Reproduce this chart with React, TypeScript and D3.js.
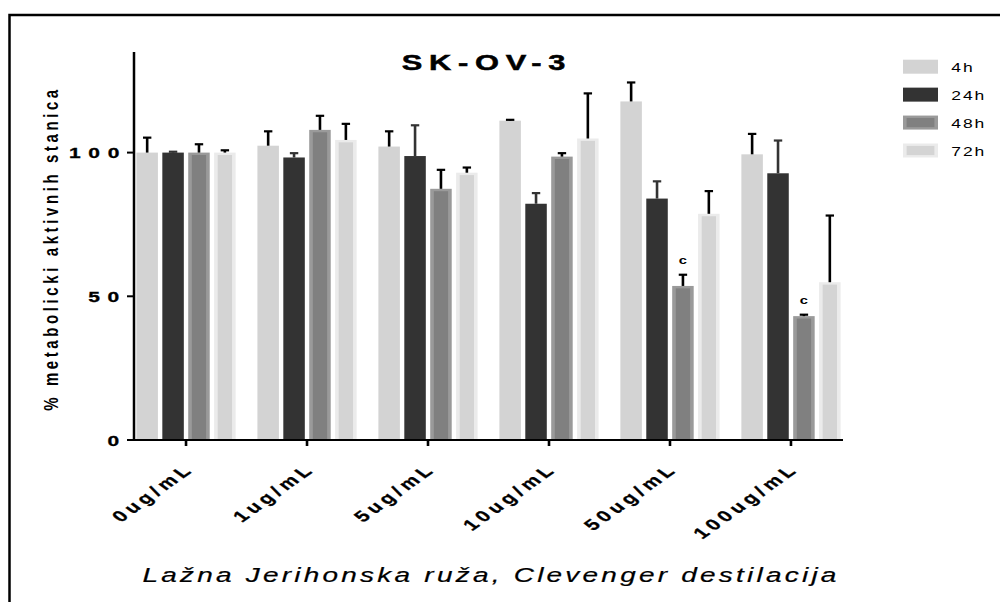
import * as d3 from "d3";

const categories = ["0ug/mL", "1ug/mL", "5ug/mL", "10ug/mL", "50ug/mL", "100ug/mL"];
const series = ["4h", "24h", "48h", "72h"];

// mean % per series, one value per category
const means4h = [100, 102.4, 102.1, 111.1, 117.8, 99.4];
const means24h = [100, 98.3, 98.8, 82.2, 84.0, 92.8];
const means48h = [100, 107.9, 87.4, 98.6, 53.6, 43.1];
const means72h = [100, 104.4, 93.0, 104.9, 78.7, 54.9];

// upper error (SEM)
const err4h = [5.2, 5.0, 5.3, 0.3, 6.6, 7.1];
const err24h = [0.3, 1.5, 10.7, 3.7, 6.0, 11.4];
const err48h = [2.9, 4.9, 6.6, 1.2, 3.9, 0.5];
const err72h = [0.8, 5.6, 1.8, 15.7, 7.9, 23.2];

const yTicks = [0, 50, 100];

// significance letters: [category, series, label]
const marks: [string, string, string][] = [
  ["50ug/mL", "48h", "c"],
  ["100ug/mL", "48h", "c"],
];

const means = [means4h, means24h, means48h, means72h];
const errs = [err4h, err24h, err48h, err72h];

// bar look per series: fill, outline colour, error colour
const fills = ["#d3d3d3", "#333333", "#808080", "#d4d4d4"];
const edges = ["#d3d3d3", "#333333", "#9a9a9a", "#ebebeb"];
const errColors = ["#000", "#333", "#000", "#000"];

const W = 1000;
const H = 602;
const SX = 1.4; // the original is stretched horizontally
const FONT = "'Liberation Sans', Arial, sans-serif";

export default function App() {
  const x = d3
    .scaleBand<string>()
    .domain(categories)
    .range([134, 843])
    .paddingInner(0.18)
    .paddingOuter(0.02);
  const xs = d3
    .scaleBand<string>()
    .domain(series)
    .range([0, x.bandwidth()])
    .paddingInner(0.17);
  const y = d3.scaleLinear().domain([0, 135]).range([440, 52]);
  const legendY = d3.scalePoint<string>().domain(series).range([59.7, 143.5]);

  const bars = categories.flatMap((c, ci) =>
    series.map((s, si) => ({
      c,
      s,
      si,
      v: means[si][ci],
      e: errs[si][ci],
      x0: (x(c) ?? 0) + (xs(s) ?? 0),
    }))
  );

  const bw = xs.bandwidth();
  const stretch = (tx: number, ty: number, extra = "") =>
    `translate(${tx},${ty}) scale(${SX},1)${extra}`;

  return (
    <svg
      width={W}
      height={H}
      style={{ position: "absolute", left: 0, top: 0, display: "block", background: "#fff" }}
      fontFamily={FONT}
    >
      {/* frame */}
      <path d={`M9.5,${H + 5}V15H${W + 5}`} fill="none" stroke="#000" strokeWidth={2.5} />

      {/* bars */}
      {bars.map((b) => {
        const top = y(b.v);
        const bottom = y(0);
        const inset = b.si >= 2;
        return (
          <g key={b.c + b.s}>
            <rect x={b.x0} y={top} width={bw} height={bottom - top} fill={edges[b.si]} />
            {inset ? (
              <rect
                x={b.x0 + 3.6}
                y={top + 2.4}
                width={bw - 7.2}
                height={bottom - top - 2.4}
                fill={fills[b.si]}
              />
            ) : null}
          </g>
        );
      })}

      {/* error bars */}
      {bars.map((b) => {
        const cx = b.x0 + bw / 2;
        return (
          <g key={"e" + b.c + b.s} stroke={errColors[b.si]}>
            <line x1={cx} x2={cx} y1={y(b.v)} y2={y(b.v + b.e)} strokeWidth={2.6} />
            <line x1={cx - 4.2} x2={cx + 4.2} y1={y(b.v + b.e)} y2={y(b.v + b.e)} strokeWidth={2.2} />
          </g>
        );
      })}

      {/* significance letters */}
      {marks.map(([c, s, t]) => {
        const ci = categories.indexOf(c);
        const si = series.indexOf(s);
        const cx = (x(c) ?? 0) + (xs(s) ?? 0) + bw / 2;
        return (
          <text
            key={c + s}
            transform={stretch(cx, y(means[si][ci] + errs[si][ci]) - 11)}
            textAnchor="middle"
            fontSize={10.5}
            fontWeight="bold"
            fill="#000"
          >
            {t}
          </text>
        );
      })}

      {/* y axis */}
      <line x1={134} x2={134} y1={y(135)} y2={y(0) + 1} stroke="#000" strokeWidth={2.5} />
      {yTicks.map((t) => (
        <g key={t}>
          <line x1={127} x2={134} y1={y(t)} y2={y(t)} stroke="#000" strokeWidth={2} />
          <text
            transform={stretch(127, y(t) + 5.5)}
            textAnchor="end"
            fontSize={15}
            fontWeight="bold"
            letterSpacing={5.5}
            fill="#000"
            stroke="#000"
            strokeWidth={0.3}
          >
            {t}
          </text>
        </g>
      ))}

      {/* x axis */}
      <line x1={134} x2={843} y1={y(0)} y2={y(0)} stroke="#000" strokeWidth={2.2} />
      {categories.map((c) => {
        const cx = (x(c) ?? 0) + x.bandwidth() / 2;
        return (
          <g key={c}>
            <line x1={cx} x2={cx} y1={y(0)} y2={y(0) + 6} stroke="#000" strokeWidth={2.6} />
            <text
              transform={stretch(cx + 9, y(0) + 30, " rotate(-45)")}
              textAnchor="end"
              fontSize={15.5}
              fontWeight="bold"
              letterSpacing={3.3}
              fill="#000"
              stroke="#000"
              strokeWidth={0.3}
            >
              {c}
            </text>
          </g>
        );
      })}

      {/* title */}
      <text
        transform={stretch(401.8, 69.5)}
        fontSize={22}
        fontWeight="bold"
        letterSpacing={4.8}
        fill="#000"
        stroke="#000"
        strokeWidth={0.5}
      >
        SK-OV-3
      </text>

      {/* y axis title */}
      <text
        transform={stretch(58, 248.5, " rotate(-90)")}
        textAnchor="middle"
        fontSize={15}
        fontWeight="bold"
        letterSpacing={3.6}
        fill="#000"
      >
        % metabolicki aktivnih stanica
      </text>

      {/* x axis title */}
      <text
        transform={stretch(491, 581.7)}
        textAnchor="middle"
        fontSize={20}
        fontStyle="italic"
        letterSpacing={2.3}
        fill="#000"
        stroke="#000"
        strokeWidth={0.2}
      >
        Lažna Jerihonska ruža, Clevenger destilacija
      </text>

      {/* legend */}
      {series.map((s, si) => {
        const ty = legendY(s) ?? 0;
        return (
          <g key={s}>
            <rect x={903} y={ty} width={35} height={14} fill={edges[si]} />
            {si >= 2 ? (
              <rect x={906.6} y={ty + 2.4} width={27.8} height={9.2} fill={fills[si]} />
            ) : null}
            <text
              transform={stretch(951.2, ty + 12.5)}
              fontSize={12.5}
              letterSpacing={1.4}
              fill="#000"
            >
              {s}
            </text>
          </g>
        );
      })}
    </svg>
  );
}
